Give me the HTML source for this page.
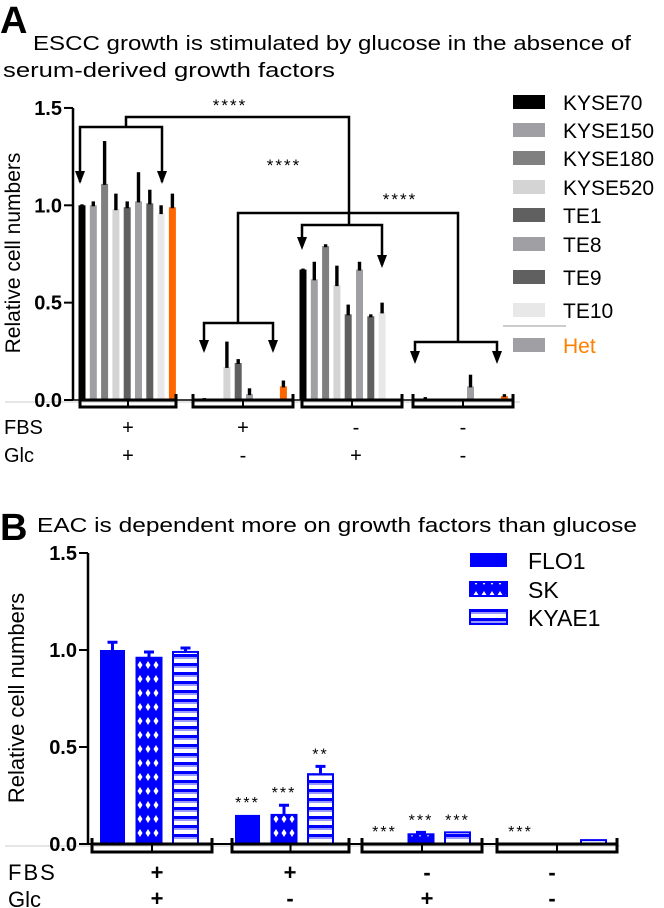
<!DOCTYPE html>
<html><head><meta charset="utf-8"><style>
body{margin:0;background:#fff}
svg{display:block;font-family:"Liberation Sans",Arial,sans-serif}
</style></head><body>
<svg id="fig" width="664" height="908" viewBox="0 0 664 908" xmlns="http://www.w3.org/2000/svg">
<defs>
<pattern id="skPat" width="8" height="14" patternUnits="userSpaceOnUse">
<rect width="8" height="14" fill="#0000ff"/>
<path d="M4 3 L6.5 7 L4 11 L1.5 7Z" fill="#fff"/>
</pattern>
<pattern id="kyPat" width="8" height="9" patternUnits="userSpaceOnUse">
<rect width="8" height="9" fill="#fff"/>
<rect y="6" width="8" height="3" fill="#0000ff"/>
<rect y="0" width="8" height="2" fill="#9999ff"/>
</pattern>
</defs>
<g id="panelA"></g>
<g id="panelB"></g>
</svg>
<script>
// ---------- Panel A data ----------
const seriesA = ["KYSE70","KYSE150","KYSE180","KYSE520","TE1","TE8","TE9","TE10","Het"];
const conditionsA = ["FBS+ Glc+","FBS+ Glc-","FBS- Glc+","FBS- Glc-"];
const valuesA = [
  [1.00,1.00,1.11,0.98,0.99,1.02,1.01,0.96,0.99],
  [0.00,0.005,0.00,0.17,0.19,0.03,0.00,0.00,0.07],
  [0.67,0.62,0.79,0.59,0.44,0.67,0.43,0.45,0.00],
  [0.00,0.005,0.00,0.00,0.00,0.07,0.00,0.00,0.02]
];
const errorsA = [
  [0.005,0.02,0.22,0.08,0.03,0.15,0.07,0.04,0.07],
  [0,0.005,0,0.13,0.02,0.03,0,0,0.03],
  [0.005,0.09,0.01,0.10,0.05,0.04,0.01,0.05,0],
  [0,0.01,0,0,0,0.06,0,0,0.01]
];
const ticksA = [0.0,0.5,1.0,1.5];
// ---------- Panel B data ----------
const seriesB = ["FLO1","SK","KYAE1"];
const valuesB = [
  [1.00,0.96,0.99],
  [0.15,0.15,0.36],
  [0.00,0.05,0.06],
  [0.00,0.00,0.02]
];
const errorsB = [
  [0.04,0.03,0.02],
  [0.00,0.05,0.04],
  [0.00,0.01,0.00],
  [0.00,0.00,0.00]
];
const starsB = [
  ["","",""],
  ["***","***","**"],
  ["***","***","***"],
  ["***","",""]
];
const ticksB = [0.0,0.5,1.0,1.5];
const fbsLabels = ["+","+","-","-"];
const glcLabels = ["+","-","+","-"];

const NS="http://www.w3.org/2000/svg";
function mk(tag,attrs,parent,text){const e=document.createElementNS(NS,tag);for(const k in attrs)e.setAttribute(k,attrs[k]);if(text!==undefined)e.textContent=text;parent.appendChild(e);return e;}

// ---------- Panel A ----------
const A=document.getElementById('panelA');
const yA=v=>400-v*194.7;
const colorsA=["#000000","#a0a0a4","#808080","#d4d4d4","#606060","#a0a0a4","#606060","#e8e8e8","#ff6600"];
const legColA=["#000000","#a0a0a4","#808080","#d4d4d4","#606060","#a0a0a4","#606060","#e8e8e8","#a0a0a4"];
const groupStartA=[82,193,303,414], stepA=11.3, bwA=7;
const xA=(g,i)=>groupStartA[g]+i*stepA;

let t=mk('text',{x:0,y:33,'font-size':38,'font-weight':'bold'},A,'A');

t=mk('text',{x:33,y:50,'font-size':20,textLength:598,lengthAdjust:'spacingAndGlyphs'},A,'ESCC growth is stimulated by glucose in the absence of');

t=mk('text',{x:3,y:77,'font-size':20,textLength:332,lengthAdjust:'spacingAndGlyphs'},A,'serum-derived growth factors');


// axes
mk('line',{x1:5,y1:402,x2:520,y2:402,stroke:'#ccc','stroke-width':1},A);
let ax=mk('line',{x1:73,y1:yA(1.5),x2:73,y2:400,stroke:'#000','stroke-width':2.5},A);

mk('line',{x1:73,y1:400,x2:513,y2:400,stroke:'#000','stroke-width':1.5},A);
ticksA.forEach(v=>{
  mk('line',{x1:64,y1:yA(v),x2:73,y2:yA(v),stroke:'#000','stroke-width':2},A);
  const tl=mk('text',{x:62,y:yA(v)+7,'font-size':20,'font-weight':'bold','text-anchor':'end'},A,v.toFixed(1));
  
  
});
t=mk('text',{transform:'translate(20,253) rotate(-90)','font-size':21,'text-anchor':'middle'},A,'Relative cell numbers');


// bars
valuesA.forEach((row,g)=>row.forEach((v,i)=>{
  const cx=xA(g,i);
  if(v>0){
    const b=mk('rect',{x:cx-bwA/2,y:yA(v),width:bwA,height:400-yA(v),fill:colorsA[i]},A);
    
    
  }
  const e=errorsA[g][i];
  if(e>0){
    const eb=mk('rect',{x:cx-1.7,y:yA(v+e),width:3.4,height:yA(v)-yA(v+e)+1,fill:'#000'},A);
    
    
  }
}));

// group brackets under axis
const brA=[[80,176],[193,293],[302,402],[413,513]];
brA.forEach(([a,b],g)=>{
  const r=mk('rect',{x:a,y:400,width:b-a,height:7,fill:'none',stroke:'#000','stroke-width':3},A);
  
  
  mk('line',{x1:(a+b)/2,y1:400,x2:(a+b)/2,y2:407,stroke:'#000','stroke-width':2},A);
  mk('rect',{x:a-1.5,y:394,width:3,height:8,fill:'#000'},A);
  mk('rect',{x:b-1.5,y:394,width:3,height:8,fill:'#000'},A);
});
// FBS / Glc
const cxA=[128,243,356,463];
t=mk('text',{x:4,y:434,'font-size':20},A,'FBS');
t=mk('text',{x:4,y:462,'font-size':20},A,'Glc');
cxA.forEach((c,g)=>{
  const f=mk('text',{x:c,y:434,'font-size':20,'text-anchor':'middle'},A,fbsLabels[g]);
  
  
  const gl=mk('text',{x:c,y:462,'font-size':20,'text-anchor':'middle'},A,glcLabels[g]);
  
  
});

// significance brackets
function path(d,name){const e=mk('path',{d:d,fill:'none',stroke:'#000','stroke-width':2.5},A);return e;}
function arrow(x,tip,p){const e=mk('path',{d:`M${x-5} ${tip-13} L${x+5} ${tip-13} L${x} ${tip}Z`,fill:'#000'},p);}
path('M80 182 L80 127 L162 127 L162 182','sig-bracket-1');arrow(80,184,A);arrow(162,184,A);
path('M126 127 L126 117 L349 117 L349 225','sig-bracket-link-1');
path('M302 246 L302 225 L382 225 L382 265','sig-bracket-3');arrow(302,250,A);arrow(382,268,A);
path('M238 323 L238 213 L458 213 L458 342','sig-bracket-link-2');
path('M204 350 L204 323 L273 323 L273 350','sig-bracket-2');arrow(204,353,A);arrow(273,353,A);
path('M415 360 L415 342 L497 342 L497 360','sig-bracket-4');arrow(415,364,A);arrow(497,364,A);
[[230,111],[284,171],[400,205]].forEach(([x,y])=>{
  const s=mk('text',{x:x,y:y,'font-size':17,'text-anchor':'middle','letter-spacing':'2'},A,'****');
  
  
});

// legend A
const legY=[102,130,158,187,215,244,277,310,345];
seriesA.forEach((s,i)=>{
  const g=mk('g',{},A);
  
  
  mk('rect',{x:513,y:legY[i]-7,width:32,height:14,fill:legColA[i]},g);
  mk('text',{x:563,y:legY[i]+8,'font-size':21,fill:i===8?'#ff8000':'#000'},g,s);
});
mk('line',{x1:503,y1:326,x2:566,y2:326,stroke:'#bbb','stroke-width':1.5},A);

// ---------- Panel B ----------
const B=document.getElementById('panelB');
const yB=v=>844-v*194;
t=mk('text',{x:0,y:540,'font-size':38,'font-weight':'bold'},B,'B');

t=mk('text',{x:37,y:532,'font-size':20,textLength:600,lengthAdjust:'spacingAndGlyphs'},B,'EAC  is dependent more on growth factors than glucose');


mk('line',{x1:5,y1:846,x2:620,y2:846,stroke:'#ccc','stroke-width':1},B);
ax=mk('line',{x1:88,y1:yB(1.5),x2:88,y2:844,stroke:'#000','stroke-width':2.5},B);

mk('line',{x1:88,y1:844,x2:617,y2:844,stroke:'#000','stroke-width':2},B);
ticksB.forEach(v=>{
  mk('line',{x1:79,y1:yB(v),x2:88,y2:yB(v),stroke:'#000','stroke-width':2},B);
  const tl=mk('text',{x:77,y:yB(v)+7,'font-size':20,'font-weight':'bold','text-anchor':'end'},B,v.toFixed(1));
  
  
});
t=mk('text',{transform:'translate(24,698) rotate(-90)','font-size':22,'text-anchor':'middle'},B,'Relative cell numbers');


const groupStartB=[100,235,372,508], stepB=36.5, bwB=25;
const fillsB=['#0000ff','url(#skPat)','url(#kyPat)'];
valuesB.forEach((row,g)=>row.forEach((v,i)=>{
  const x=groupStartB[g]+i*stepB;
  if(v>0){
    const b=mk('rect',{x:x,y:yB(v),width:bwB,height:844-yB(v),fill:fillsB[i],stroke:'#0000ff','stroke-width':i===0?0:2},B);
    
    
  }
  const e=errorsB[g][i];
  if(e>0){
    const eb=mk('path',{d:`M${x+bwB/2} ${yB(v)} L${x+bwB/2} ${yB(v+e)} M${x+bwB/2-5} ${yB(v+e)} L${x+bwB/2+5} ${yB(v+e)}`,stroke:'#0000ff','stroke-width':3,fill:'none'},B);
    
    
  }
  const st=starsB[g][i];
  if(st){
    const s=mk('text',{x:x+bwB/2,y:yB(v+e)-7,'font-size':16,'text-anchor':'middle','letter-spacing':'2'},B,st);
    
    
  }
}));
const brB=[[92,212],[232,349],[362,482],[497,617]];
brB.forEach(([a,b])=>{
  const r=mk('rect',{x:a,y:844,width:b-a,height:8,fill:'none',stroke:'#000','stroke-width':3},B);
  
  
  mk('line',{x1:(a+b)/2,y1:844,x2:(a+b)/2,y2:852,stroke:'#000','stroke-width':2},B);
  mk('rect',{x:a-1.5,y:838,width:3,height:8,fill:'#000'},B);
  mk('rect',{x:b-1.5,y:838,width:3,height:8,fill:'#000'},B);
});
const cxB=[157,290,427,552];
t=mk('text',{x:8,y:880,'font-size':22,'letter-spacing':'2'},B,'FBS');
t=mk('text',{x:8,y:907,'font-size':22},B,'Glc');
cxB.forEach((c,g)=>{
  const f=mk('text',{x:c,y:880,'font-size':22,'font-weight':'bold','text-anchor':'middle'},B,fbsLabels[g]);
  
  
  const gl=mk('text',{x:c,y:906,'font-size':22,'font-weight':'bold','text-anchor':'middle'},B,glcLabels[g]);
  
  
});
const legYB=[560,589,617];
seriesB.forEach((s,i)=>{
  const g=mk('g',{},B);
  
  
  mk('rect',{x:470,y:legYB[i]-7,width:37,height:14,fill:fillsB[i],stroke:'#0000ff','stroke-width':i===0?0:2},g);
  mk('text',{x:528,y:legYB[i]+9,'font-size':23},g,s);
});
</script>
</body></html>
